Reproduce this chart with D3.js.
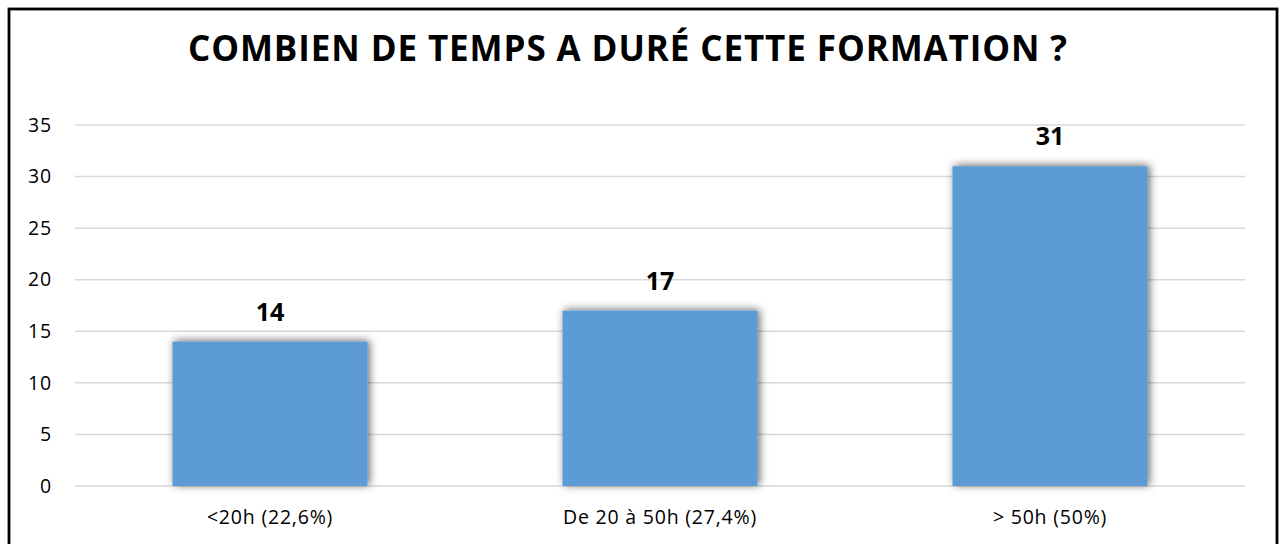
<!DOCTYPE html>
<html>
<head>
<meta charset="utf-8">
<script src="https://cdn.jsdelivr.net/npm/d3@7"></script>
<style>
  html, body { margin: 0; padding: 0; background: #fff; }
  svg { display: block; }
  text { font-family: "Open Sans", "Noto Sans", sans-serif; }
</style>
</head>
<body>
<svg id="chart" width="1282" height="544"></svg>
<script>
const title = "COMBIEN DE TEMPS A DURÉ CETTE FORMATION ?";
const categories = ["<20h (22,6%)", "De 20 à 50h (27,4%)", "> 50h (50%)"];
const values = [14, 17, 31];
const yTicks = [0, 5, 10, 15, 20, 25, 30, 35];

const W = 1282, H = 544;
const margin = { left: 75, right: 36, top: 125, bottom: 58 };
const svg = d3.select("#chart");

const defs = svg.append("defs");
const f = defs.append("filter").attr("id", "shadow")
  .attr("x", "-20%").attr("y", "-20%").attr("width", "140%").attr("height", "140%");
f.append("feDropShadow").attr("dx", 2).attr("dy", -1).attr("stdDeviation", 4.5)
  .attr("flood-color", "#000").attr("flood-opacity", 0.6);

// frame
svg.append("rect").attr("x", 9).attr("y", 9).attr("width", 1268).attr("height", 560)
  .attr("fill", "none").attr("stroke", "#000").attr("stroke-width", 2.8);

const x = d3.scaleBand().domain(categories)
  .range([margin.left, W - margin.right - 1])
  .paddingInner(0.5).paddingOuter(0.25);
const y = d3.scaleLinear().domain([0, 35]).range([486, 125]);

// gridlines
svg.append("g").selectAll("line").data(yTicks).join("line")
  .attr("x1", margin.left).attr("x2", W - margin.right - 1)
  .attr("y1", d => y(d)).attr("y2", d => y(d))
  .attr("stroke", "#d9d9d9").attr("stroke-width", 1.5);

// y axis labels
const yAxis = d3.axisLeft(y).tickValues(yTicks).tickSize(0).tickPadding(0);
const gy = svg.append("g").attr("transform", "translate(52,0)").call(yAxis);
gy.select(".domain").remove();
gy.selectAll("text").attr("font-size", 19.5).attr("fill", "#000")
  .attr("letter-spacing", "0.8px")
  .attr("font-family", '"Open Sans", sans-serif');

// bars
svg.append("g").selectAll("rect").data(values).join("rect")
  .attr("x", (d, i) => x(categories[i]))
  .attr("width", x.bandwidth())
  .attr("y", d => y(d))
  .attr("height", d => y(0) - y(d))
  .attr("fill", "#5b9bd5")
  .attr("filter", "url(#shadow)");

// value labels
svg.append("g").selectAll("text").data(values).join("text")
  .attr("x", (d, i) => x(categories[i]) + x.bandwidth() / 2)
  .attr("y", d => y(d) - 21)
  .attr("text-anchor", "middle")
  .attr("font-size", 25).attr("font-weight", "bold").attr("fill", "#000")
  .text(d => d);

// x axis labels
const xAxis = d3.axisBottom(x).tickSize(0).tickPadding(0);
const gx = svg.append("g").attr("transform", "translate(0,510)").call(xAxis);
gx.select(".domain").remove();
gx.selectAll("text").attr("font-size", 19.5).attr("fill", "#000")
  .attr("letter-spacing", "0.8px")
  .attr("font-family", '"Open Sans", sans-serif')
  .attr("dy", "0.74em");

// title
svg.append("text").attr("x", 628).attr("y", 61)
  .attr("text-anchor", "middle").attr("font-size", 35).attr("font-weight", "bold")
  .attr("letter-spacing", "0.9px")
  .attr("fill", "#000").text(title);
</script>
</body>
</html>
